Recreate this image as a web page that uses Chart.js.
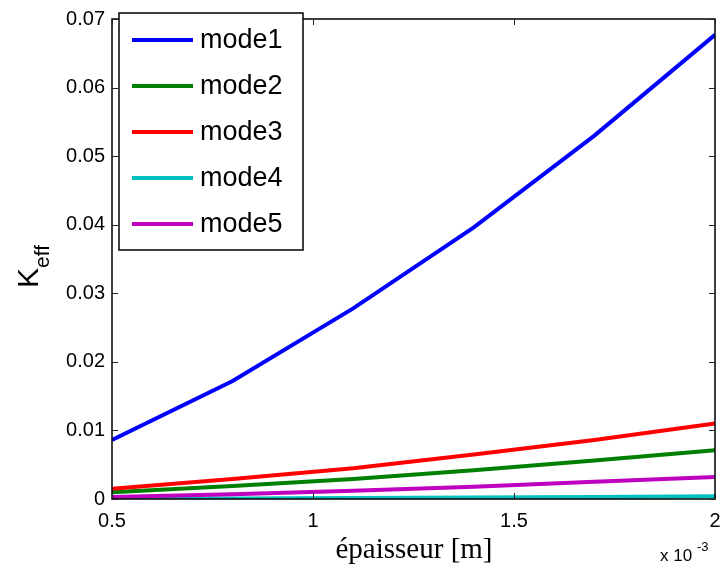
<!DOCTYPE html>
<html>
<head>
<meta charset="utf-8">
<script src="https://cdn.jsdelivr.net/npm/chart.js@4.4.1/dist/chart.umd.min.js"></script>
<style>
  html, body { margin: 0; padding: 0; background: #fff; }
  #wrap { width: 720px; height: 568px; position: relative; }
</style>
</head>
<body>
<div id="wrap"><canvas id="c" width="720" height="568"></canvas></div>
<script>
// ---- data (x in units of 1e-3 m) ----
const xValues = [0.5, 0.8, 1.1, 1.4, 1.7, 2.0];
const mode1 = [0.0086, 0.0172, 0.0278, 0.0396, 0.0530, 0.0677];
const mode2 = [0.0010, 0.0019, 0.0029, 0.0042, 0.0056, 0.0071];
const mode3 = [0.0015, 0.0029, 0.0045, 0.0065, 0.0086, 0.0110];
const mode4 = [0.00003, 0.00008, 0.00014, 0.00022, 0.00030, 0.00040];
const mode5 = [0.0003, 0.0007, 0.0012, 0.0018, 0.0025, 0.0032];
const seriesLabels = ['mode1', 'mode2', 'mode3', 'mode4', 'mode5'];
const seriesValues = [mode1, mode2, mode3, mode4, mode5];
const seriesColors = ['#0000FF', '#008000', '#FF0000', '#00BFBF', '#BF00BF'];
const xTicks = [0.5, 1, 1.5, 2];
const yTicks = [0, 0.01, 0.02, 0.03, 0.04, 0.05, 0.06, 0.07];
const xTitle = 'épaisseur [m]';
const yTitleMain = 'K';
const yTitleSub = 'eff';

const datasets = seriesValues.map((vals, i) => ({
  label: seriesLabels[i],
  data: vals.map((v, j) => ({ x: xValues[j], y: v })),
  borderColor: seriesColors[i],
  backgroundColor: seriesColors[i],
  borderWidth: 4,
  pointRadius: 0,
  tension: 0,
  fill: false,
  clip: 0,
  order: seriesValues.length - 1 - i
}));

const sans = '"Liberation Sans", Arial, Helvetica, sans-serif';

const decor = {
  id: 'decor',
  afterDatasetsDraw(chart) {
    const ctx = chart.ctx;
    const a = chart.chartArea;
    const xs = chart.scales.x, ys = chart.scales.y;
    ctx.save();
    // box
    ctx.strokeStyle = '#000';
    ctx.lineWidth = 1.5;
    ctx.strokeRect(a.left, a.top, a.right - a.left, a.bottom - a.top);
    // inward ticks on all sides
    ctx.lineWidth = 1;
    ctx.strokeStyle = '#222';
    const tl = 6;
    xTicks.forEach(v => {
      const p = Math.round(xs.getPixelForValue(v)) + 0.5;
      ctx.beginPath();
      ctx.moveTo(p, a.bottom); ctx.lineTo(p, a.bottom - tl);
      ctx.moveTo(p, a.top); ctx.lineTo(p, a.top + tl);
      ctx.stroke();
    });
    yTicks.forEach(v => {
      const p = Math.round(ys.getPixelForValue(v)) + 0.5;
      ctx.beginPath();
      ctx.moveTo(a.left, p); ctx.lineTo(a.left + tl, p);
      ctx.moveTo(a.right, p); ctx.lineTo(a.right - tl, p);
      ctx.stroke();
    });
    // legend box
    const lx = 119, ly = 13, lw = 184, lh = 237;
    ctx.fillStyle = '#fff';
    ctx.fillRect(lx, ly, lw, lh);
    ctx.strokeStyle = '#000';
    ctx.lineWidth = 1.5;
    ctx.strokeRect(lx, ly, lw, lh);
    ctx.font = '27px ' + sans;
    ctx.textBaseline = 'middle';
    ctx.textAlign = 'left';
    chart.data.datasets.forEach((ds, i) => {
      const yy = 40 + i * 46;
      ctx.strokeStyle = ds.borderColor;
      ctx.lineWidth = 4;
      ctx.beginPath();
      ctx.moveTo(132, yy); ctx.lineTo(193, yy);
      ctx.stroke();
      ctx.fillStyle = '#000';
      ctx.fillText(ds.label, 200, yy + 1);
    });
    // x title
    ctx.fillStyle = '#000';
    ctx.font = '29px "Liberation Serif", "Times New Roman", serif';
    ctx.textAlign = 'center';
    ctx.textBaseline = 'alphabetic';
    ctx.fillText(xTitle, 414, 558);
    // exponent
    ctx.font = '17px ' + sans;
    ctx.textAlign = 'left';
    ctx.fillText('x 10', 660, 561);
    ctx.font = '13px ' + sans;
    ctx.fillText('-3', 697, 551);
    // y title
    ctx.translate(38, 288);
    ctx.rotate(-Math.PI / 2);
    ctx.font = '30px ' + sans;
    ctx.textAlign = 'left';
    ctx.fillText(yTitleMain, 0, 0);
    const kw = ctx.measureText(yTitleMain).width;
    ctx.font = '21px ' + sans;
    ctx.fillText(yTitleSub, kw, 11);
    ctx.restore();
  }
};

new Chart(document.getElementById('c'), {
  type: 'line',
  data: { datasets },
  options: {
    responsive: false,
    animation: false,
    devicePixelRatio: 1,
    layout: { padding: { top: 15, right: 5, left: 0, bottom: 0 } },
    plugins: { legend: { display: false }, tooltip: { enabled: false } },
    scales: {
      x: {
        type: 'linear',
        min: 0.5, max: 2,
        afterFit(s) { s.height = 69; s.paddingLeft = 0; s.paddingRight = 0; },
        afterBuildTicks(s) { s.ticks = xTicks.map(v => ({ value: v })); },
        grid: { display: false, drawTicks: false },
        border: { display: false },
        ticks: {
          color: '#000',
          font: { family: sans, size: 20 },
          padding: 10,
          maxRotation: 0,
          autoSkip: false,
          callback: v => String(v)
        }
      },
      y: {
        type: 'linear',
        min: 0, max: 0.07,
        afterFit(s) { s.width = 112; },
        afterBuildTicks(s) { s.ticks = yTicks.map(v => ({ value: v })); },
        grid: { display: false, drawTicks: false },
        border: { display: false },
        ticks: {
          color: '#000',
          font: { family: sans, size: 20 },
          padding: 7,
          autoSkip: false,
          callback: v => String(Number(v.toFixed(2)))
        }
      }
    }
  },
  plugins: [decor]
});
</script>
</body>
</html>
